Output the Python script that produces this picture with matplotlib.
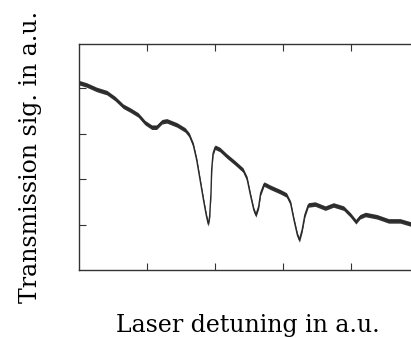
import numpy as np
import matplotlib.pyplot as plt

# transmission signal (arbitrary units)
detuning = [0.00, 0.11, 0.26, 0.41, 0.53, 0.65, 0.75, 0.87, 0.97, 1.07, 1.14, 1.22,
            1.29, 1.44, 1.56, 1.62, 1.68, 1.73, 1.78, 1.83, 1.87, 1.90, 1.92, 1.94,
            1.95, 1.97, 2.00, 2.07, 2.17, 2.29, 2.41, 2.47, 2.52, 2.57, 2.60, 2.64,
            2.67, 2.72, 2.81, 2.96, 3.05, 3.11, 3.16, 3.21, 3.24, 3.28, 3.32, 3.37,
            3.47, 3.62, 3.74, 3.89, 3.99, 4.07, 4.13, 4.21, 4.38, 4.55, 4.72, 4.88]
signal = [4.12, 4.07, 3.97, 3.90, 3.77, 3.60, 3.52, 3.41, 3.24, 3.14, 3.14, 3.26,
          3.28, 3.19, 3.08, 2.97, 2.75, 2.42, 1.98, 1.54, 1.21, 1.01, 1.17, 1.69,
          2.20, 2.56, 2.70, 2.65, 2.51, 2.36, 2.20, 2.01, 1.65, 1.32, 1.21, 1.39,
          1.69, 1.89, 1.82, 1.72, 1.65, 1.47, 1.10, 0.77, 0.66, 0.88, 1.21, 1.43,
          1.45, 1.36, 1.43, 1.36, 1.21, 1.06, 1.17, 1.22, 1.17, 1.08, 1.08, 1.01]

x = np.array(detuning)
y = np.array(signal)

plt.rcParams['font.family'] = ['DejaVu Serif']

fig = plt.figure(figsize=(4.11, 3.38), dpi=100)
ax = fig.add_axes([79 / 411, 68 / 338, 332 / 411, 226 / 338])

# band of constant vertical width, like the noisy trace
ax.fill_between(x, y - 0.05, y + 0.05, color="#333333", lw=0)
ax.plot(x, y, color="#2a2a2a", lw=1.0)

ax.set_xlim(0, 4.88)
ax.set_ylim(0, 4.97)
ax.set_xticks([1, 2, 3, 4])
ax.set_yticks([1, 2, 3, 4])
ax.set_xticklabels([])
ax.set_yticklabels([])
ax.tick_params(direction="in", length=5, width=0.8, color="#333333",
               top=True, bottom=True, left=True, right=False)
for s in ax.spines.values():
    s.set_color("#333333")
    s.set_linewidth(1)
ax.spines["right"].set_visible(False)

ax.set_xlabel("Laser detuning in a.u.", fontsize=17, va="baseline")
ax.xaxis.set_label_coords(0.509, -0.274)
ax.set_ylabel("Transmission sig. in a.u.", fontsize=17)
ax.yaxis.set_label_coords(-0.111, 0.5)

fig.savefig("out.png", dpi=100)
